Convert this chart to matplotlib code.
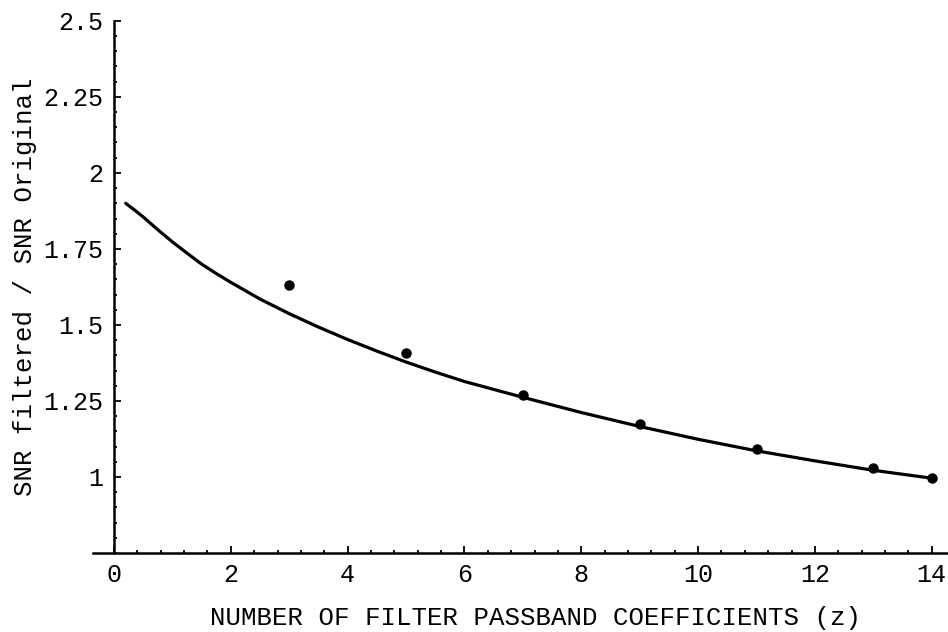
import numpy as np
import matplotlib
matplotlib.use('Agg')
import matplotlib.pyplot as plt
from matplotlib import ticker

# measured points
z_pts = [3, 5, 7, 9, 11, 13, 14]
snr_pts = [1.63, 1.407, 1.271, 1.175, 1.093, 1.028, 0.997]

# fitted curve
z_fit = [0.2, 0.35, 0.5, 0.75, 1, 1.25, 1.5, 1.75, 2, 2.5, 3, 3.5, 4, 4.5, 5,
         5.5, 6, 7, 8, 9, 10, 11, 12, 13, 14]
snr_fit = [1.90, 1.878, 1.855, 1.813, 1.773, 1.736, 1.70, 1.669, 1.64, 1.585,
           1.537, 1.493, 1.452, 1.414, 1.378, 1.345, 1.314, 1.262, 1.212,
           1.166, 1.124, 1.086, 1.053, 1.022, 0.996]

x_ticks = [0, 2, 4, 6, 8, 10, 12, 14]
y_ticks = [1, 1.25, 1.5, 1.75, 2, 2.25, 2.5]
y_labels = ['1', '1.25', '1.5', '1.75', '2', '2.25', '2.5']

plt.rcParams['font.family'] = ['Liberation Mono', 'DejaVu Sans Mono']

fig = plt.figure(figsize=(9.48, 6.32), dpi=100)
ax = fig.add_axes([0.0981, 0.125, 0.902, 0.842])

ax.plot(z_fit, snr_fit, color='black', lw=2.3, solid_capstyle='round',
        solid_joinstyle='round')
ax.plot(z_pts, snr_pts, 'o', color='black', ms=6.5)

ax.set_xlim(-0.36, 14.28)
ax.set_ylim(0.75, 2.5)

ax.spines['top'].set_visible(False)
ax.spines['right'].set_visible(False)
ax.spines['left'].set_position(('data', 0))
ax.spines['left'].set_linewidth(1.8)
ax.spines['bottom'].set_linewidth(1.8)

ax.set_xticks(x_ticks)
ax.set_xticklabels([str(v) for v in x_ticks])
ax.set_yticks(y_ticks)
ax.set_yticklabels(y_labels)
ax.xaxis.set_minor_locator(ticker.MultipleLocator(0.4))
ax.yaxis.set_minor_locator(ticker.MultipleLocator(0.05))

ax.tick_params(which='both', direction='in', width=1.3, labelsize=18)
ax.tick_params(which='major', length=5)
ax.tick_params(which='minor', length=2.5)
ax.tick_params(axis='x', which='major', pad=7)
ax.tick_params(axis='y', which='major', pad=8)

ax.set_xlabel('NUMBER OF FILTER PASSBAND COEFFICIENTS (z)', fontsize=18.5)
ax.set_ylabel('SNR filtered / SNR Original', fontsize=18.5)
ax.xaxis.set_label_coords(0.518, -0.1)
ax.yaxis.set_label_coords(-0.066, 0.5)

fig.savefig('out.png', dpi=100)
